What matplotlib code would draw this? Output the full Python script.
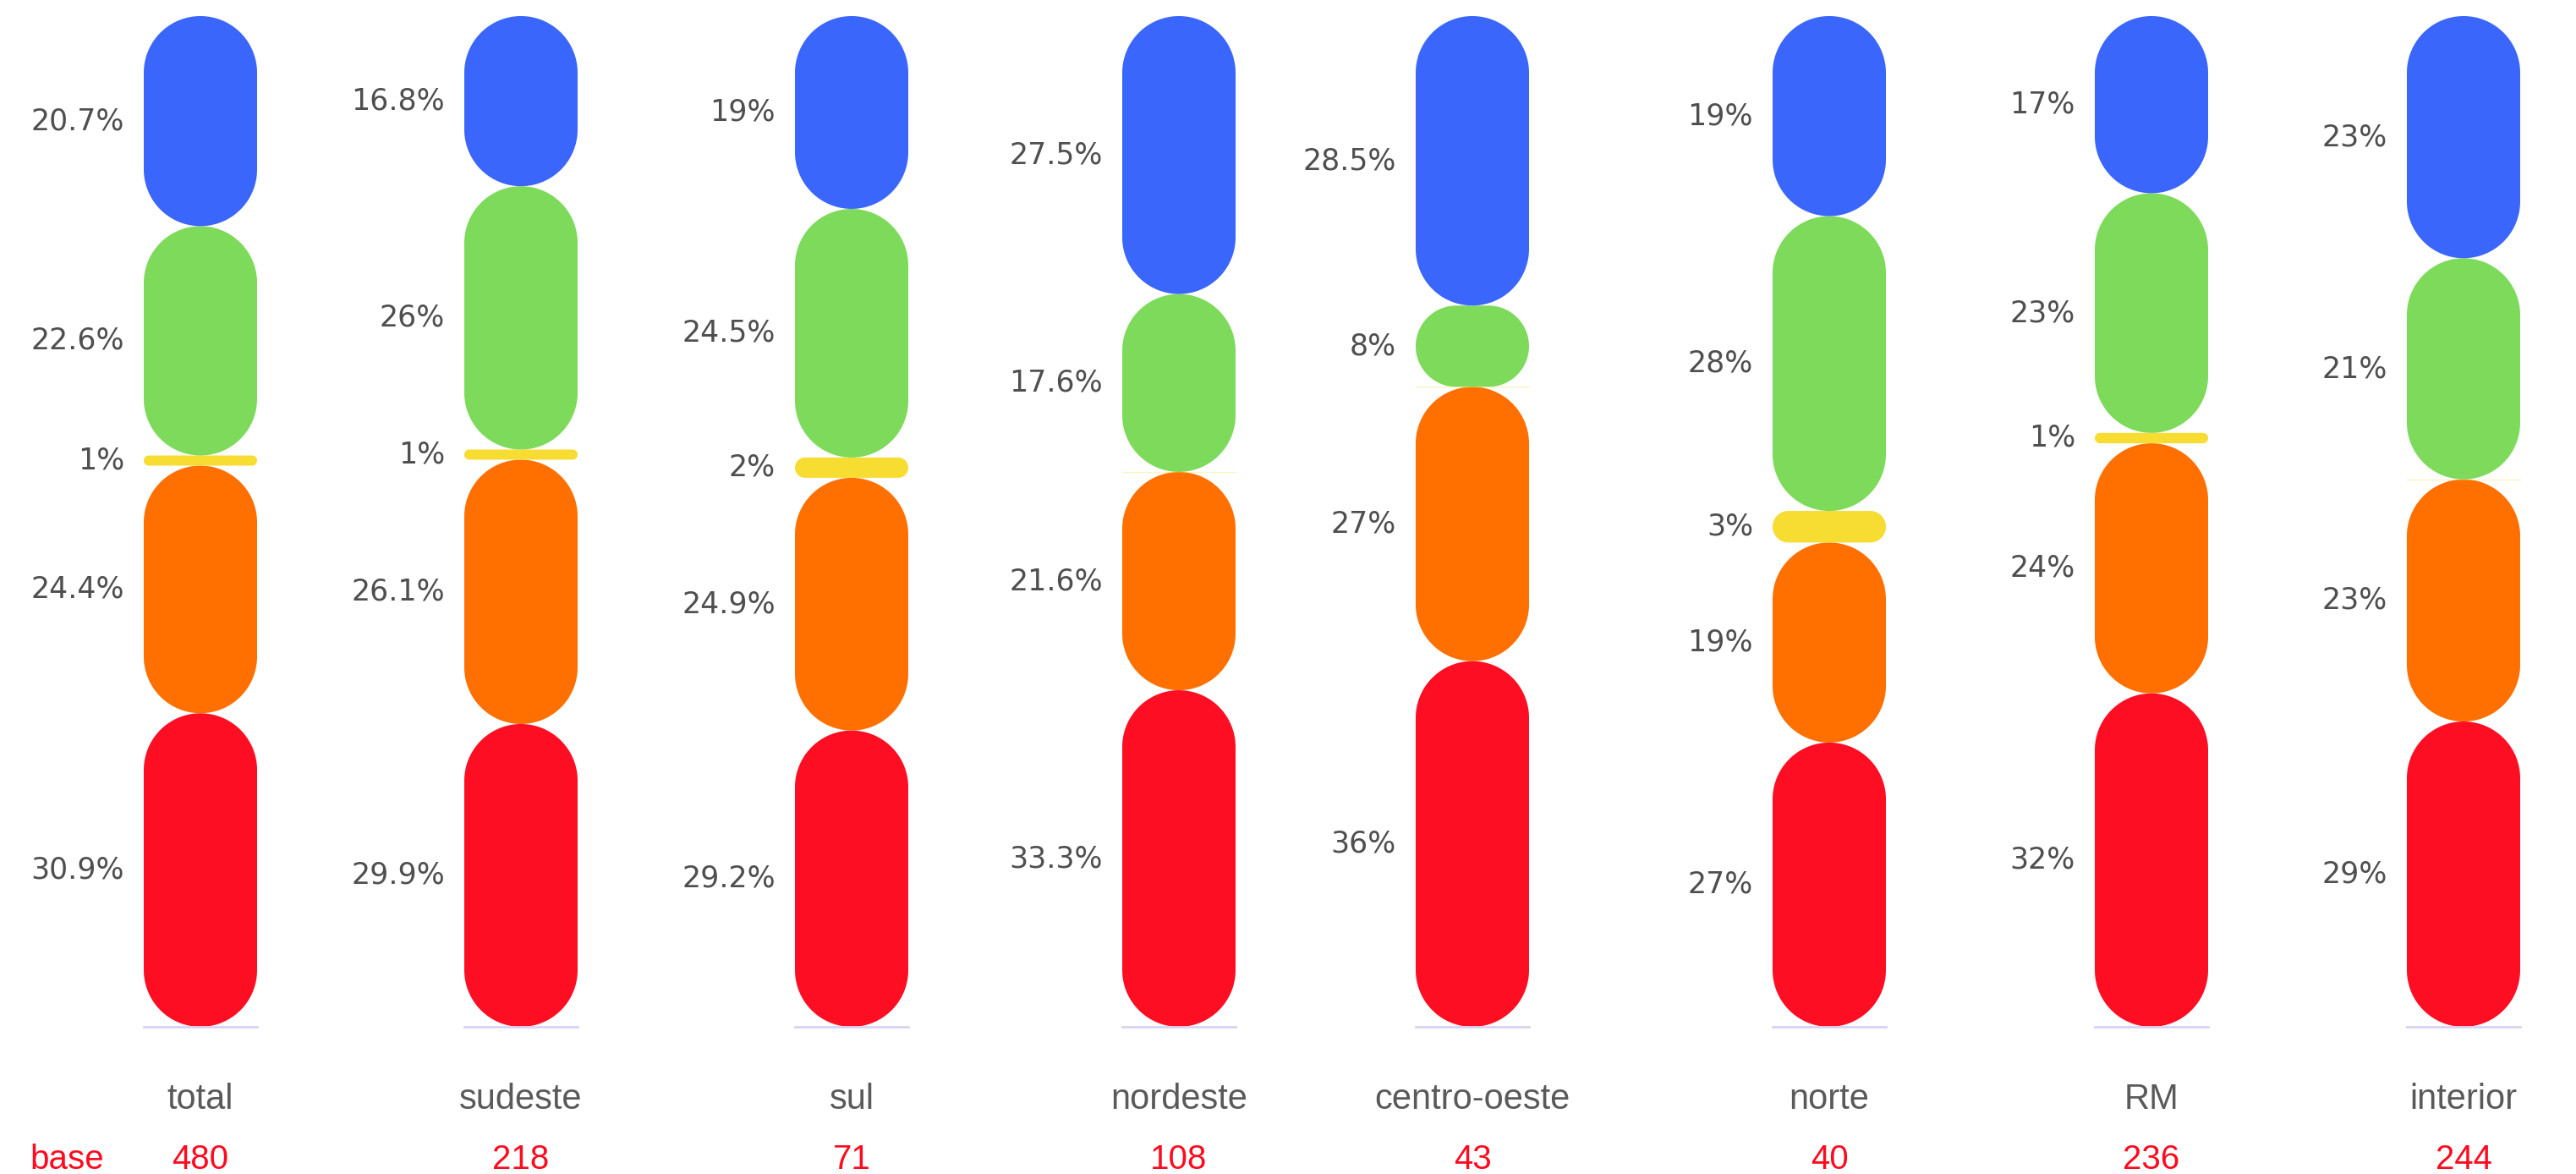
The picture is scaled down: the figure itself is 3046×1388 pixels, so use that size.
import numpy as np
import matplotlib
matplotlib.use('Agg')
import matplotlib.pyplot as plt
from matplotlib.patches import Polygon

W, H = 3046, 1388

categories = ['total', 'sudeste', 'sul', 'nordeste', 'centro-oeste', 'norte', 'RM', 'interior']
base = [480, 218, 71, 108, 43, 40, 236, 244]

# stacked from the bottom up
red = [30.9, 29.9, 29.2, 33.3, 36, 27, 32, 29]
orange = [24.4, 26.1, 24.9, 21.6, 27, 19, 24, 23]
yellow = [1, 1, 2, 0, 0, 3, 1, 0]
green = [22.6, 26, 24.5, 17.6, 8, 28, 23, 21]
blue = [20.7, 16.8, 19, 27.5, 28.5, 19, 17, 23]

series = [red, orange, yellow, green, blue]
colors = ['#fe0e23', '#ff7000', '#f7dc32', '#7dda5b', '#3b66fc']

# layout in pixels
centers = [237, 616, 1007, 1394, 1741, 2163, 2544, 2913]
BAR_W = 134
TOP, BOTTOM = 19, 1214
TEXT_GREY = '#4f4f4f'
BASE_RED = '#ff0a1e'


def pill(x0, x1, y0, y1, rx, ry, n=40):
    """Rounded rectangle with elliptical corners, in data units."""
    pts = []
    corners = [((x1 - rx, y0 + ry), -90, 0), ((x1 - rx, y1 - ry), 0, 90),
               ((x0 + rx, y1 - ry), 90, 180), ((x0 + rx, y0 + ry), 180, 270)]
    for (cx, cy), a0, a1 in corners:
        t = np.radians(np.linspace(a0, a1, n))
        pts.extend(zip(cx + rx * np.cos(t), cy + ry * np.sin(t)))
    return np.array(pts)


fig = plt.figure(figsize=(W / 100, H / 100), dpi=100)

for i, c in enumerate(centers):
    vals = [s[i] for s in series]
    total = sum(vals)
    ax = fig.add_axes([(c - BAR_W / 2) / W, (H - BOTTOM) / H,
                       BAR_W / W, (BOTTOM - TOP) / H])
    ax.set_xlim(0, BAR_W)
    ax.set_ylim(0, total)
    ax.axis('off')
    py = (BOTTOM - TOP) / total  # pixels per percentage point

    ax.plot([0, BAR_W], [0, 0], color='#d9d2f2', lw=2, clip_on=False)

    bottom = 0
    for v, col in zip(vals, colors):
        if v == 0:
            ax.plot([0, BAR_W], [bottom, bottom], color=col, alpha=0.3,
                    lw=1, clip_on=False)
            continue
        r = min(BAR_W / 2, v * py / 2)
        poly = Polygon(pill(0, BAR_W, bottom, bottom + v, r, r / py),
                       closed=True, facecolor=col, edgecolor='none',
                       clip_on=False)
        ax.add_patch(poly)
        ax.text(-23, bottom + v / 2, f'{v:g}%', ha='right', va='center',
                fontsize=25, color=TEXT_GREY, family='DejaVu Sans',
                weight='medium', clip_on=False)
        bottom += v

    fig.text(c / W, 1 - 1311 / H, categories[i], ha='center', va='baseline',
             fontsize=30, color='#5a5a5a', family='Liberation Sans')
    fig.text(c / W, 1 - 1382 / H, str(base[i]), ha='center', va='baseline',
             fontsize=29, color=BASE_RED, family='Liberation Sans')

fig.text(35 / W, 1 - 1382 / H, 'base', ha='left', va='baseline',
         fontsize=29, color=BASE_RED, family='Liberation Sans')

fig.savefig('out.png', dpi=100, facecolor='white')
